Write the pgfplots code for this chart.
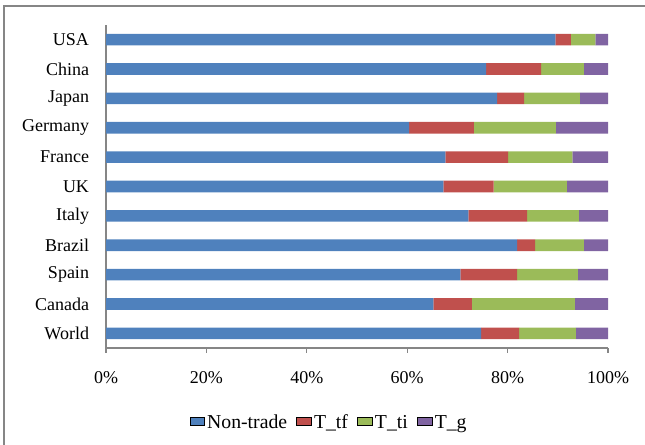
\documentclass[border=0pt]{standalone}
\usepackage{pgfplots}
\pgfplotsset{compat=1.18}
\usepackage{pgfplotstable}
\usepackage{fontspec}
\setmainfont{Liberation Serif}
\definecolor{cblue}{HTML}{4F81BD}
\definecolor{cred}{HTML}{C0504D}
\definecolor{cgreen}{HTML}{9BBB59}
\definecolor{cpurple}{HTML}{8064A2}
\definecolor{axgray}{HTML}{868686}
\pgfplotsset{/pgfplots/xbar legend/.style={/pgfplots/legend image code/.code={\fill[##1] (0pt,-3.4pt) rectangle (6.8pt,3.4pt);}}}
\pgfplotstableread{
pos nontrade ttf tti tg
0 74.7 7.6 11.3 6.4
1 65.2 7.7 20.5 6.6
2 70.6 11.3 12.1 6.0
3 81.9 3.6 9.7 4.8
4 72.2 11.7 10.3 5.8
5 67.2 10.0 14.6 8.2
6 67.6 12.5 12.8 7.1
7 60.4 12.9 16.3 10.4
8 77.9 5.4 11.1 5.6
9 75.7 11.0 8.5 4.8
10 89.5 3.1 4.9 2.5
}\datatable
\begin{document}
\fontsize{13.5}{16}\selectfont
\begin{tikzpicture}[x=0.75pt,y=0.75pt]
\useasboundingbox (0,0) rectangle (645,445);
\begin{axis}[
  at={(79.5pt,72.75pt)}, anchor=south west,
  scale only axis,
  width=376.5pt, height=242.25pt,
  xbar stacked,
  bar width=8.7pt,
  xmin=0, xmax=100,
  ymin=-0.5, ymax=10.5,
  axis x line*=bottom, axis y line*=left,
  axis line style={axgray, line width=0.8pt},
  every tick/.style={axgray, line width=0.8pt},
  tick align=outside,
  xtick={0,20,...,100},
  xticklabel={\pgfmathprintnumber{\tick}\%},
  major tick length=3.75pt,
  xticklabel style={yshift=-9.5pt},
  ytick={0,...,10},
  yticklabels={World,Canada,Spain,Brazil,Italy,UK,France,Germany,Japan,China,USA},
  ytick style={draw=none},
  minor ytick={-0.5,0.5,...,10.5},
  minor tick length=3.75pt,
  yticklabel style={xshift=-4.3pt},
  tick label style={font=\fontsize{13.5}{16}\selectfont},
  /pgf/number format/assume math mode=true,
  legend columns=4,
  legend style={draw=none, at={(0.445,-0.232)}, anchor=center,
    font=\fontsize{14.8}{17}\selectfont,
    /tikz/every even column/.append style={column sep=5pt},
    inner sep=0pt},
  legend cell align=left,
]
\addplot[fill=cblue, draw=none] table[x=nontrade, y=pos] {\datatable};
\addplot[fill=cred, draw=none] table[x=ttf, y=pos] {\datatable};
\addplot[fill=cgreen, draw=none] table[x=tti, y=pos] {\datatable};
\addplot[fill=cpurple, draw=none] table[x=tg, y=pos] {\datatable};
\legend{Non-trade,T\_tf,T\_ti,T\_g}
\end{axis}
\draw[axgray, line width=1.1pt] (4,0) -- (4,439) -- (645,439);
\end{tikzpicture}
\end{document}
